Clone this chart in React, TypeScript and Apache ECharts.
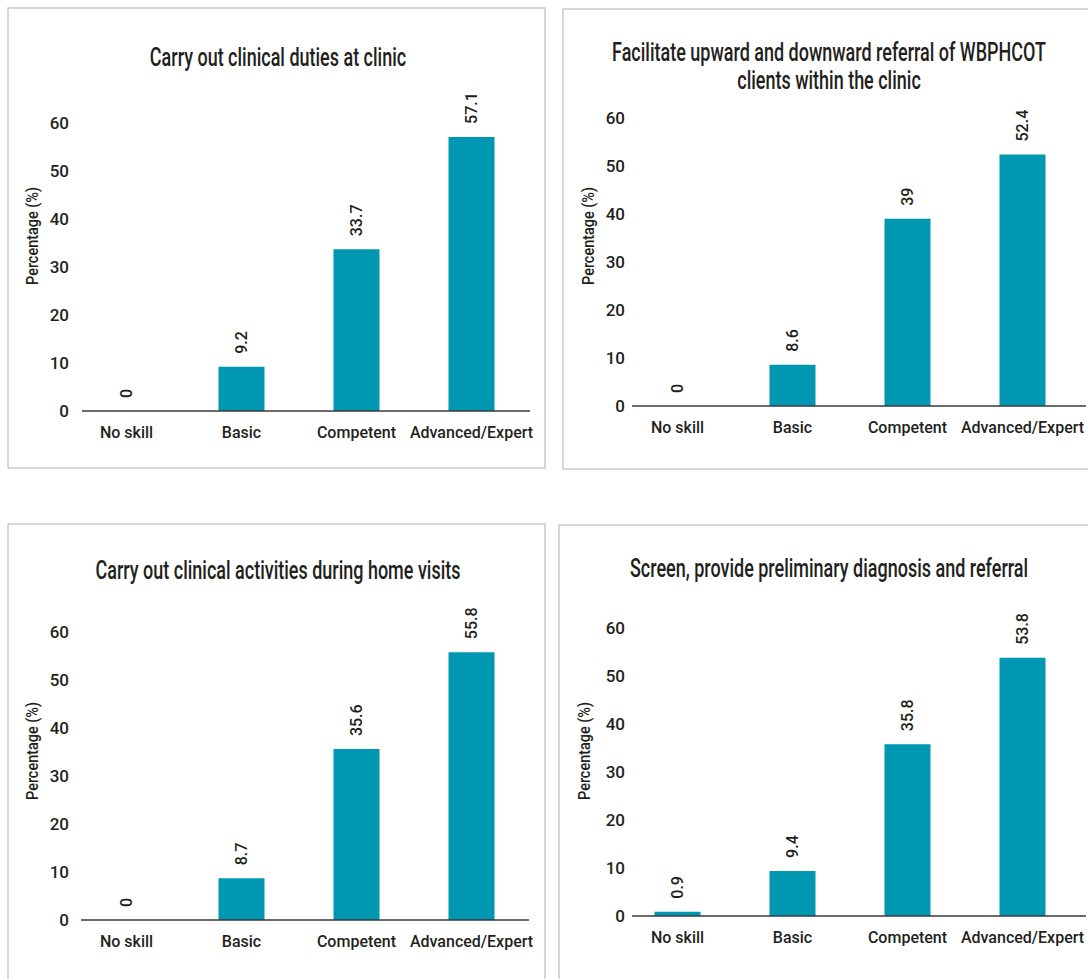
import React, { useEffect, useRef } from 'react';
import * as echarts from 'echarts';

// ---- Data ----
const categories = ['No skill', 'Basic', 'Competent', 'Advanced/Expert'];
const clinicDuties = [0, 9.2, 33.7, 57.1];
const referralWithinClinic = [0, 8.6, 39, 52.4];
const homeVisits = [0, 8.7, 35.6, 55.8];
const screenDiagnosis = [0.9, 9.4, 35.8, 53.8];
const chartTitles = [
  'Carry out clinical duties at clinic',
  'Facilitate upward and downward referral of WBPHCOT\nclients within the clinic',
  'Carry out clinical activities during home visits',
  'Screen, provide preliminary diagnosis and referral',
];
const yAxisTitle = 'Percentage (%)';
const yMin = 0;
const yMax = 60;
const yStep = 10;

// ---- Layout / style ----
const FONT = "Roboto, 'Liberation Sans', sans-serif";
const WEIGHT = 500;
const TEXT = '#231f20';
const BAR = '#0097b2';
const BORDER = '#cacaca';
const AXIS = '#3a3a3a';

const seriesData = [clinicDuties, referralWithinClinic, homeVisits, screenDiagnosis];

const panels = [
  { border: [8, 8, 537, 460], grid: { left: 69, top: 123, width: 460, height: 288 }, title: [278, 57], yTitle: [32, 236], axis: [82, 530] },
  { border: [563, 9, 540, 460], grid: { left: 620, top: 118, width: 460, height: 288 }, title: [829, 66], yTitle: [588, 236], axis: [632, 1086] },
  { border: [8, 524, 537, 470], grid: { left: 69, top: 632, width: 460, height: 288 }, title: [278, 570], yTitle: [32, 751], axis: [81, 529] },
  { border: [559, 525, 540, 470], grid: { left: 620, top: 628, width: 460, height: 288 }, title: [829, 568], yTitle: [584, 751], axis: [632, 1086] },
];

function buildOption() {
  const grid: any[] = [];
  const xAxis: any[] = [];
  const yAxis: any[] = [];
  const series: any[] = [];
  const graphic: any[] = [];

  panels.forEach((p, i) => {
    grid.push({ ...p.grid });
    xAxis.push({
      type: 'category',
      gridIndex: i,
      data: categories,
      axisLine: { show: false },
      axisTick: { show: false },
      axisLabel: { interval: 0, color: TEXT, fontFamily: FONT, fontWeight: WEIGHT, fontSize: 16, margin: 13 },
    });
    yAxis.push({
      type: 'value',
      gridIndex: i,
      min: yMin,
      max: yMax,
      interval: yStep,
      axisLine: { show: false },
      axisTick: { show: false },
      splitLine: { show: false },
      axisLabel: { color: TEXT, fontFamily: FONT, fontWeight: WEIGHT, fontSize: 17, margin: i % 2 === 0 ? 0 : -5 },
    });
    series.push({
      type: 'bar',
      xAxisIndex: i,
      yAxisIndex: i,
      data: seriesData[i],
      barWidth: '40%',
      itemStyle: { color: BAR },
      label: {
        show: true,
        position: 'top',
        rotate: 90,
        align: 'left',
        verticalAlign: 'middle',
        distance: 13,
        color: TEXT,
        fontFamily: FONT,
        fontWeight: WEIGHT,
        fontSize: 16,
        formatter: (d: any) => String(d.value),
      },
    });

    const [bx, by, bw, bh] = p.border;
    graphic.push({
      type: 'rect',
      silent: true,
      shape: { x: bx, y: by, width: bw, height: bh },
      style: { fill: 'none', stroke: BORDER, lineWidth: 1.5 },
    });
    const baseY = p.grid.top + p.grid.height;
    graphic.push({
      type: 'line',
      silent: true,
      shape: { x1: p.axis[0], y1: baseY, x2: p.axis[1], y2: baseY },
      style: { stroke: AXIS, lineWidth: 1.5 },
      z: 10,
    });
    graphic.push({
      type: 'text',
      silent: true,
      x: p.title[0],
      y: p.title[1],
      scaleX: 0.72,
      style: {
        text: chartTitles[i],
        textAlign: 'center',
        textVerticalAlign: 'middle',
        fontFamily: FONT,
        fontWeight: WEIGHT,
        fontSize: 25,
        lineHeight: 28,
        fill: TEXT,
      },
    });
    graphic.push({
      type: 'text',
      silent: true,
      x: p.yTitle[0],
      y: p.yTitle[1],
      rotation: Math.PI / 2,
      scaleX: 0.85,
      style: {
        text: yAxisTitle,
        textAlign: 'center',
        textVerticalAlign: 'middle',
        fontFamily: FONT,
        fontWeight: WEIGHT,
        fontSize: 17,
        fill: TEXT,
      },
    });
  });

  return {
    animation: false,
    backgroundColor: '#ffffff',
    grid,
    xAxis,
    yAxis,
    series,
    graphic,
  };
}

export default function App() {
  const ref = useRef<HTMLDivElement>(null);
  useEffect(() => {
    if (!ref.current) return;
    const chart = echarts.init(ref.current, undefined, { renderer: 'svg' });
    chart.setOption(buildOption() as any);
    return () => chart.dispose();
  }, []);
  return (
    <div
      ref={ref}
      style={{ position: 'absolute', left: 0, top: 0, width: 1088, height: 979, background: '#fff' }}
    />
  );
}
